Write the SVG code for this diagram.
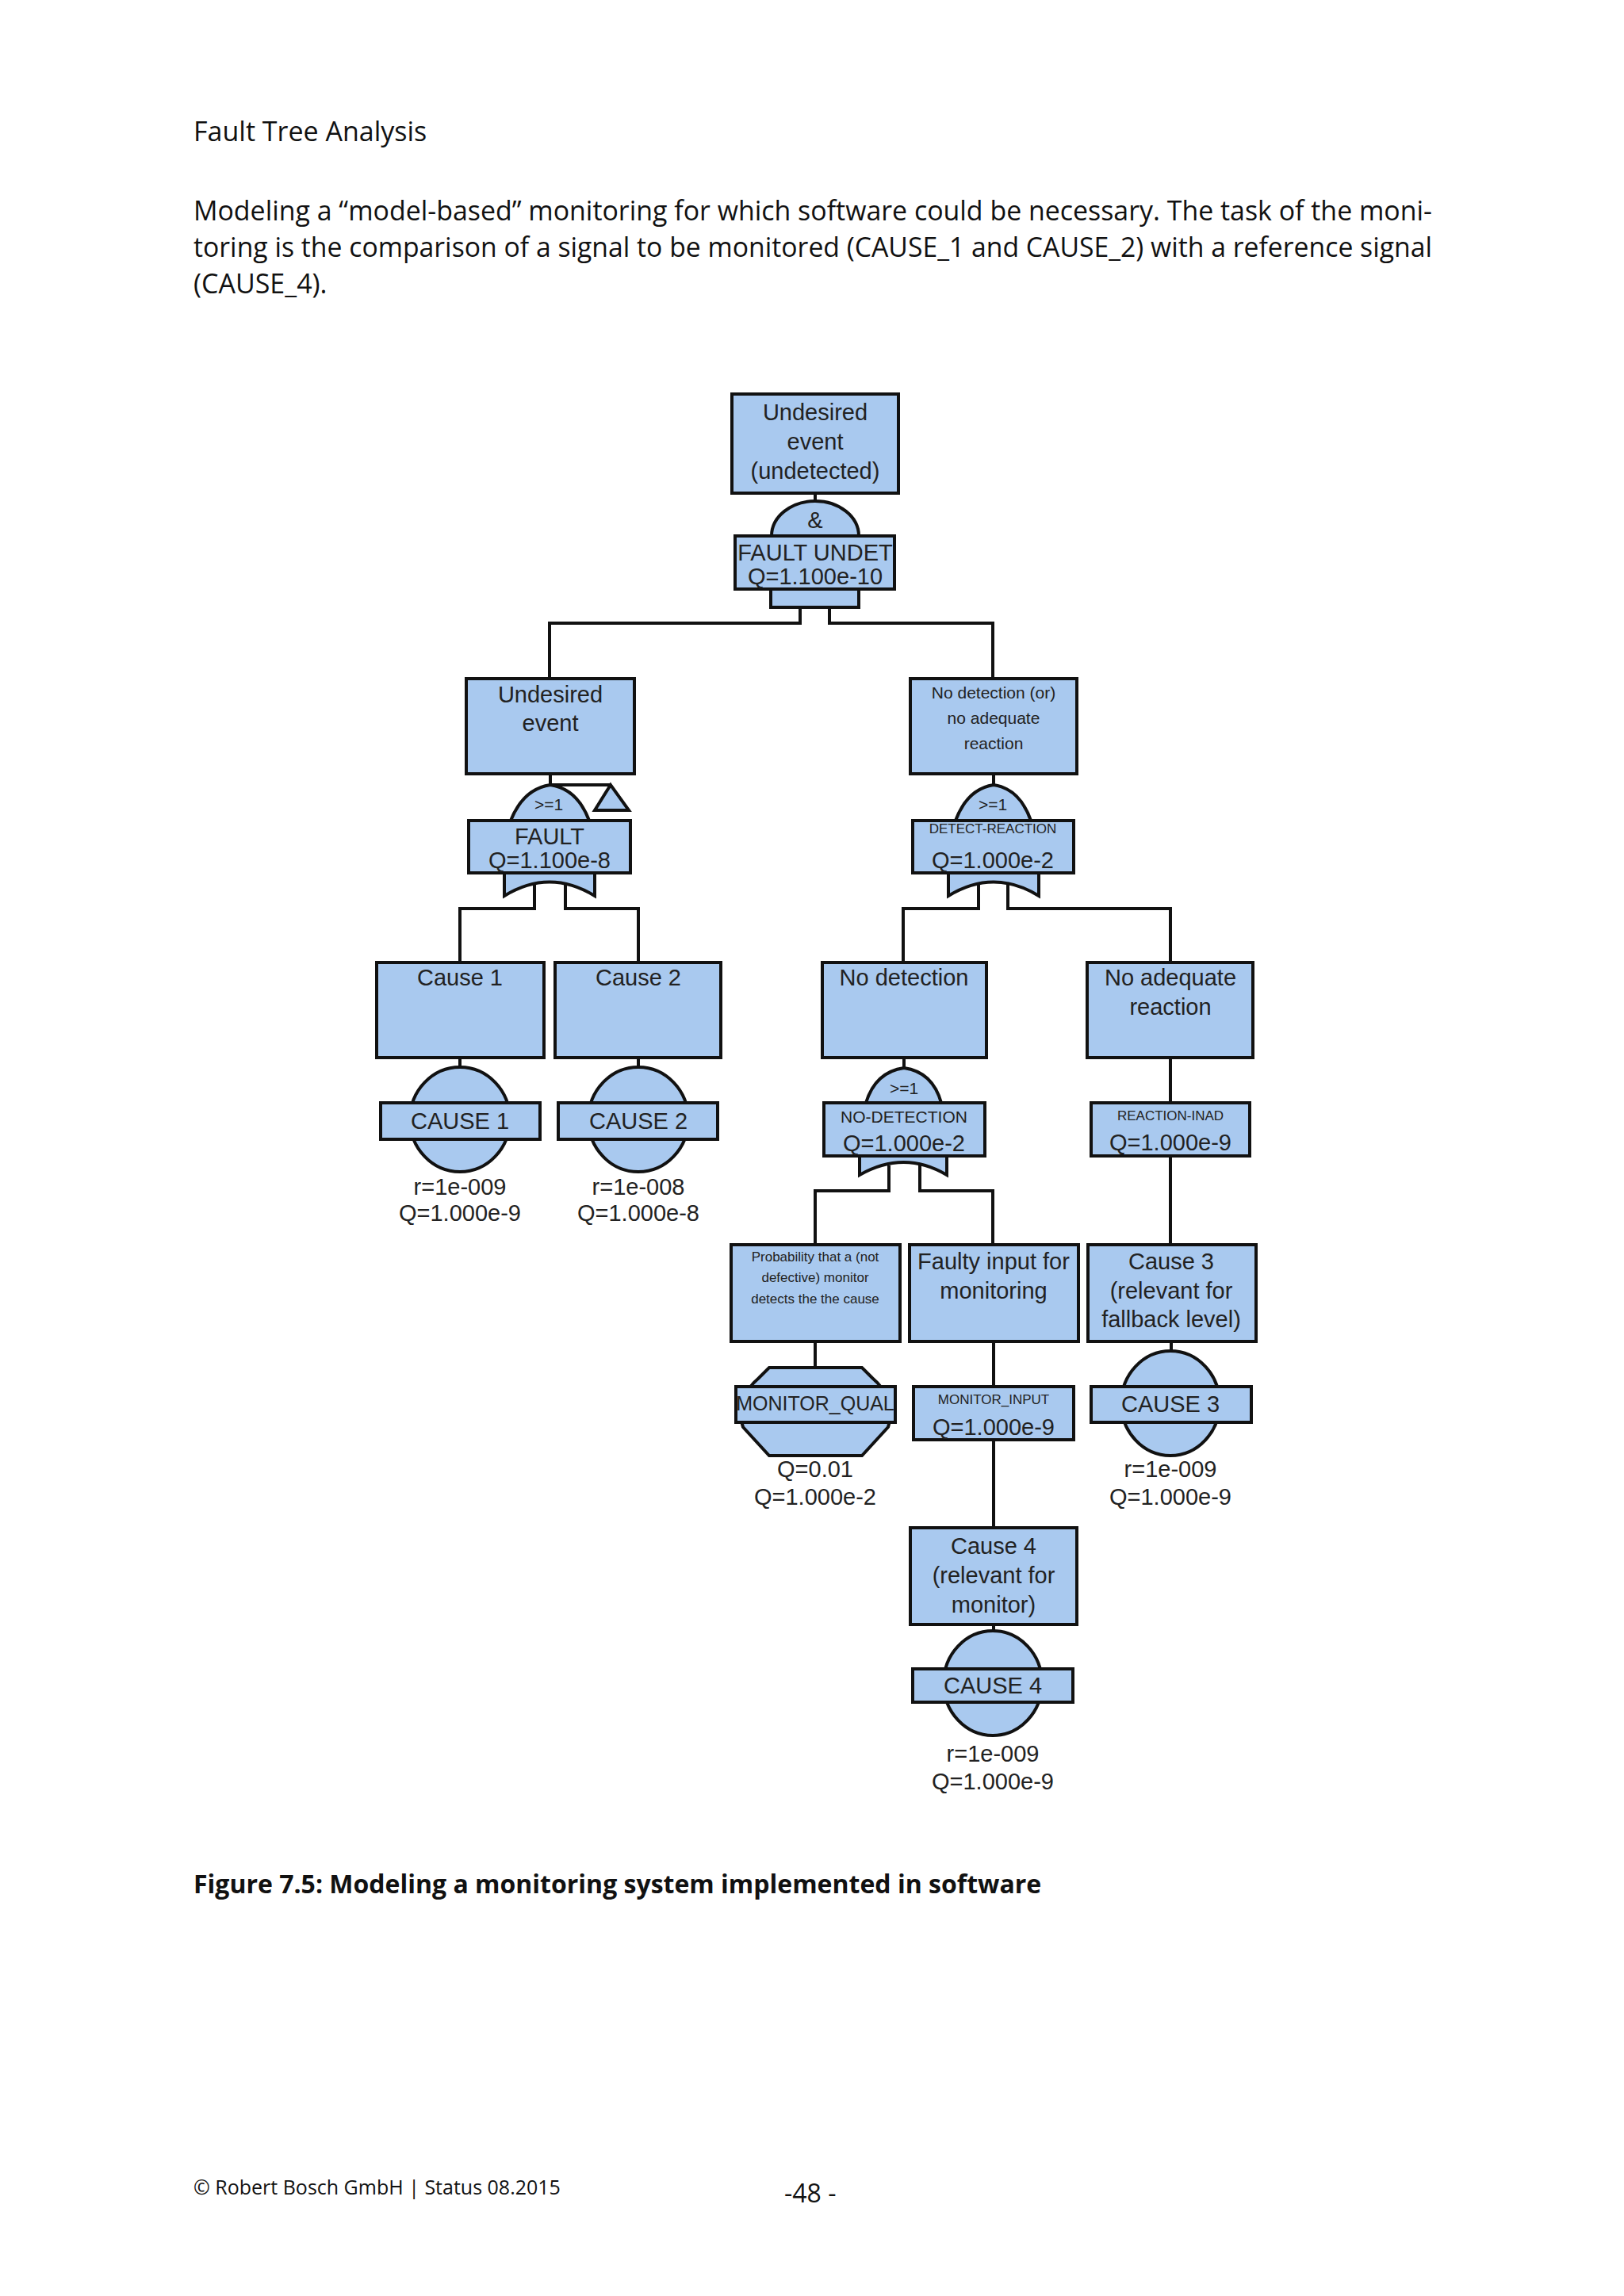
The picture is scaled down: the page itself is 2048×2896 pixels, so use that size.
<svg xmlns="http://www.w3.org/2000/svg" width="2048" height="2896" viewBox="0 0 2048 2896">
<style>
.n{fill:#a9c9ef;stroke:#111;stroke-width:4}
.c{fill:none;stroke:#111;stroke-width:4}
text{font-family:"Liberation Sans",Arial,sans-serif;fill:#222;text-anchor:middle;dominant-baseline:central}
.t{font-size:29px}
.s{font-size:21px}
.xs{font-size:17px}
.doc{font-family:"Open Sans","Liberation Sans",sans-serif;font-size:34px;text-anchor:start;dominant-baseline:auto;fill:#111}
</style>
<rect width="2048" height="2896" fill="#fff"/>
<text class="doc" x="244" y="178">Fault Tree Analysis</text>
<text class="doc" x="244" y="278" textLength="1562" lengthAdjust="spacingAndGlyphs">Modeling a “model-based” monitoring for which software could be necessary. The task of the moni-</text>
<text class="doc" x="244" y="324" textLength="1562" lengthAdjust="spacingAndGlyphs">toring is the comparison of a signal to be monitored (CAUSE_1 and CAUSE_2) with a reference signal</text>
<text class="doc" x="244" y="370">(CAUSE_4).</text>

<g id="connectors">
<path class="c" d="M1028 622V632M1009 766V786H693V856M1046 766V786H1252V856"/>
<path class="c" d="M694 976V990H770M674 1108V1146H580V1214M713 1108V1146H805V1214"/>
<path class="c" d="M1253 976V990M1234 1108V1146H1139V1214M1271 1108V1146H1476V1214"/>
<path class="c" d="M580 1334V1346M805 1334V1346M1140 1334V1347M1476 1334V1391M1476 1458V1570"/>
<path class="c" d="M1121 1470V1502H1028V1570M1160 1470V1502H1252V1570"/>
<path class="c" d="M1028 1692V1725M1253 1692V1749M1253 1816V1927M1477 1692V1703M1253 2049V2057"/>
</g>

<g id="top">
<rect class="n" x="923" y="497" width="210" height="125"/>
<text class="t" x="1028" y="520">Undesired</text><text class="t" x="1028" y="557">event</text><text class="t" x="1028" y="594">(undetected)</text>
<path class="n" d="M973 676A55 44 0 0 1 1083 676Z"/>
<text class="t" x="1028" y="656">&amp;</text>
<rect class="n" x="972" y="743" width="111" height="23"/>
<rect class="n" x="927" y="676" width="201" height="67"/>
<text class="t" x="1028" y="697">FAULT  UNDET</text><text class="t" x="1028" y="727">Q=1.100e-10</text>
</g>

<g id="undesired">
<rect class="n" x="588" y="856" width="212" height="120"/>
<text class="t" x="694" y="876">Undesired</text><text class="t" x="694" y="912">event</text>
<path class="n" d="M644 1035Q660 995 694 990Q728 995 743 1035Z"/>
<text class="s" x="692" y="1014">&gt;=1</text>
<path class="n" d="M770 990L750 1022H793Z"/>
<path class="n" d="M636 1101H750V1130Q693 1095 636 1130Z"/>
<rect class="n" x="591" y="1035" width="204" height="66"/>
<text class="t" x="693" y="1055">FAULT</text><text class="t" x="693" y="1085">Q=1.100e-8</text>
</g>

<g id="detect">
<rect class="n" x="1148" y="856" width="210" height="120"/>
<text class="s" x="1253" y="873">No detection (or)</text><text class="s" x="1253" y="905">no adequate</text><text class="s" x="1253" y="937">reaction</text>
<path class="n" d="M1205 1035Q1220 995 1253 990Q1286 995 1300 1035Z"/>
<text class="s" x="1252" y="1014">&gt;=1</text>
<path class="n" d="M1196 1101H1310V1130Q1253 1095 1196 1130Z"/>
<rect class="n" x="1151" y="1035" width="203" height="66"/>
<text class="xs" x="1252" y="1045">DETECT-REACTION</text><text class="t" x="1252" y="1085">Q=1.000e-2</text>
</g>

<g id="cause1">
<rect class="n" x="475" y="1214" width="211" height="120"/>
<text class="t" x="580" y="1233">Cause 1</text>
<ellipse class="n" cx="580" cy="1412" rx="63" ry="66"/>
<rect class="n" x="480" y="1391" width="201" height="46"/>
<text class="t" x="580" y="1414">CAUSE 1</text>
<text class="t" x="580" y="1497">r=1e-009</text><text class="t" x="580" y="1530">Q=1.000e-9</text>
</g>

<g id="cause2">
<rect class="n" x="700" y="1214" width="209" height="120"/>
<text class="t" x="805" y="1233">Cause 2</text>
<ellipse class="n" cx="805" cy="1412" rx="63" ry="66"/>
<rect class="n" x="704" y="1391" width="201" height="46"/>
<text class="t" x="805" y="1414">CAUSE 2</text>
<text class="t" x="805" y="1497">r=1e-008</text><text class="t" x="805" y="1530">Q=1.000e-8</text>
</g>

<g id="nodetection">
<rect class="n" x="1037" y="1214" width="207" height="120"/>
<text class="t" x="1140" y="1233">No detection</text>
<path class="n" d="M1092 1391Q1104 1352 1140 1347Q1176 1352 1187 1391Z"/>
<text class="s" x="1140" y="1372">&gt;=1</text>
<path class="n" d="M1084 1458H1194V1482Q1140 1450 1084 1482Z"/>
<rect class="n" x="1039" y="1391" width="203" height="67"/>
<text class="s" x="1140" y="1408">NO-DETECTION</text><text class="t" x="1140" y="1442">Q=1.000e-2</text>
</g>

<g id="noreaction">
<rect class="n" x="1371" y="1214" width="209" height="120"/>
<text class="t" x="1476" y="1233">No adequate</text><text class="t" x="1476" y="1270">reaction</text>
<rect class="n" x="1376" y="1391" width="200" height="67"/>
<text class="xs" x="1476" y="1407">REACTION-INAD</text><text class="t" x="1476" y="1441">Q=1.000e-9</text>
</g>

<g id="probability">
<rect class="n" x="922" y="1570" width="213" height="122"/>
<text class="xs" x="1028" y="1585">Probability that a (not</text><text class="xs" x="1028" y="1611">defective) monitor</text><text class="xs" x="1028" y="1638">detects the the cause</text>
<path class="n" d="M970 1725H1087L1100 1738A100 70 0 0 1 1120 1800L1087 1836H970L937 1800A100 70 0 0 1 957 1738Z"/>
<rect class="n" x="928" y="1749" width="201" height="45"/>
<text class="s" x="1028" y="1770" style="font-size:25px">MONITOR_QUAL</text>
<text class="t" x="1028" y="1853">Q=0.01</text><text class="t" x="1028" y="1888">Q=1.000e-2</text>
</g>

<g id="faultyinput">
<rect class="n" x="1147" y="1570" width="213" height="122"/>
<text class="t" x="1253" y="1591">Faulty input for</text><text class="t" x="1253" y="1628">monitoring</text>
<rect class="n" x="1152" y="1749" width="202" height="67"/>
<text class="xs" x="1253" y="1765">MONITOR_INPUT</text><text class="t" x="1253" y="1800">Q=1.000e-9</text>
</g>

<g id="cause3">
<rect class="n" x="1372" y="1570" width="212" height="122"/>
<text class="t" x="1477" y="1591">Cause 3</text><text class="t" x="1477" y="1628">(relevant for</text><text class="t" x="1477" y="1664">fallback level)</text>
<ellipse class="n" cx="1476" cy="1770" rx="62" ry="66"/>
<rect class="n" x="1376" y="1749" width="202" height="45"/>
<text class="t" x="1476" y="1771">CAUSE 3</text>
<text class="t" x="1476" y="1853">r=1e-009</text><text class="t" x="1476" y="1888">Q=1.000e-9</text>
</g>

<g id="cause4">
<rect class="n" x="1148" y="1927" width="210" height="122"/>
<text class="t" x="1253" y="1950">Cause 4</text><text class="t" x="1253" y="1987">(relevant for</text><text class="t" x="1253" y="2024">monitor)</text>
<ellipse class="n" cx="1252" cy="2123" rx="62" ry="66"/>
<rect class="n" x="1151" y="2105" width="202" height="42"/>
<text class="t" x="1252" y="2126">CAUSE 4</text>
<text class="t" x="1252" y="2212">r=1e-009</text><text class="t" x="1252" y="2247">Q=1.000e-9</text>
</g>

<text class="doc" x="244" y="2388" style="font-weight:bold;font-size:32px">Figure 7.5: Modeling a monitoring system implemented in software</text>
<text class="doc" x="244" y="2768" style="font-size:25px">© Robert Bosch GmbH | Status 08.2015</text>
<text class="doc" x="989" y="2778" style="font-size:32px">-48 -</text>
</svg>
